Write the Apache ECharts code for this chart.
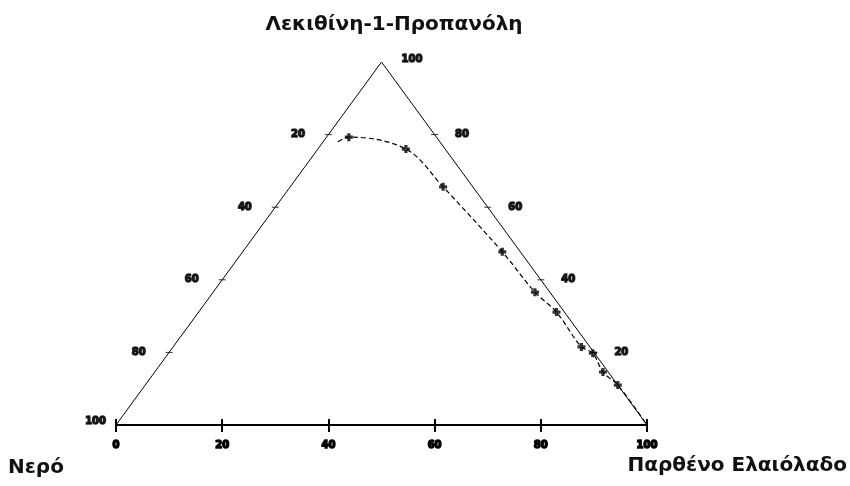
<!DOCTYPE html>
<html>
<head>
<meta charset="utf-8">
<script src="https://cdn.jsdelivr.net/npm/echarts@6/dist/echarts.min.js"></script>
<style>
  html, body { margin: 0; padding: 0; background: #fff; }
  #chart { width: 850px; height: 486px; }
</style>
</head>
<body>
<div id="chart"></div>
<script>
// Phase boundary of the water / lecithin-1-propanol / virgin olive oil system (% w/w)
const curveWater    = [19.2, 16.5, 7.4, 5.6, 3.4, 2.8, 1.5, 1.6, 0.3, 1.0, 0.0, 0.0];
const curveLecithin = [78.0, 79.3, 76.0, 65.6, 47.7, 36.6, 31.1, 21.5, 19.8, 14.6, 11.0, 0.0];
const curveOil      = [2.8, 4.2, 16.6, 28.8, 48.9, 60.6, 67.4, 76.9, 79.9, 84.4, 89.0, 100.0];
// which of the curve points carry a marker
const markedPoints  = [1, 2, 3, 4, 5, 6, 7, 8, 9, 10];

// axis ticks
const oilTicks      = [0, 20, 40, 60, 80, 100];
const waterTicks    = [80, 60, 40, 20];
const lecithinTicks = [80, 60, 40, 20];

const titleTop   = 'Λεκιθίνη-1-Προπανόλη';
const titleLeft  = 'Νερό';
const titleRight = 'Παρθένο Ελαιόλαδο';

// ternary composition -> cartesian (x along the base, y = lecithin height)
function toXY(w, l, o) {
  const s = w + l + o;
  const L = l / s * 100, O = o / s * 100;
  return [O + L / 2, L];
}

const curveData = curveWater.map((w, i) => toXY(w, curveLecithin[i], curveOil[i]));
const markerData = markedPoints.map(i => curveData[i]);

// triangle outline: water corner, lecithin apex, oil corner
const outline = [toXY(100, 0, 0), toXY(0, 100, 0), toXY(0, 0, 100)];

const leftTickData = waterTicks.map(w => toXY(w, 100 - w, 0));
const rightTickData = lecithinTicks.map(l => toXY(0, l, 100 - l));

const tickFont = {
  fontFamily: 'DejaVu Sans',
  fontWeight: 'bold',
  fontSize: 10,
  color: '#000',
  textBorderColor: '#000',
  textBorderWidth: 1.5
};

const nameFont = 'bold 20px "DejaVu Sans"';

const plusSymbol = 'path://M3,0h4v3h3v4h-3v3h-4v-3h-3v-4h3z';

const chart = echarts.init(document.getElementById('chart'), null, { renderer: 'canvas' });

chart.setOption({
  animation: false,
  backgroundColor: '#fff',
  grid: { left: 116, right: 203, top: 62, bottom: 61, containLabel: false },
  xAxis: [
    {
      type: 'value', min: 0, max: 100, interval: 20,
      axisLine: { show: true, lineStyle: { color: '#000', width: 2 } },
      axisTick: { show: true, length: 7, lineStyle: { color: '#000', width: 2 } },
      axisLabel: Object.assign({ margin: 15, formatter: v => oilTicks.includes(v) ? String(v) : '' }, tickFont),
      splitLine: { show: false }
    },
    {
      type: 'value', min: 0, max: 100, interval: 20, position: 'bottom', offset: 0,
      axisLine: { show: false },
      axisTick: { show: true, inside: true, length: 6, lineStyle: { color: '#000', width: 2 } },
      axisLabel: { show: false },
      splitLine: { show: false }
    }
  ],
  yAxis: { type: 'value', min: 0, max: 100, show: false },
  graphic: [
    {
      type: 'text', x: 394, y: 25,
      style: { text: titleTop, font: nameFont, fill: '#111', textAlign: 'center', textVerticalAlign: 'middle' }
    },
    {
      type: 'text', x: 8, y: 468,
      style: { text: titleLeft, font: nameFont, fill: '#111', textAlign: 'left', textVerticalAlign: 'middle' }
    },
    {
      type: 'text', x: 847, y: 466,
      style: { text: titleRight, font: nameFont, fill: '#111', textAlign: 'right', textVerticalAlign: 'middle' }
    }
  ],
  series: [
    {
      // left and right sides of the triangle
      type: 'line',
      data: outline,
      symbol: 'none',
      lineStyle: { color: '#000', width: 1 },
      silent: true,
      z: 2
    },
    {
      // binodal curve
      type: 'line',
      data: curveData,
      smooth: 0.35,
      symbol: 'none',
      lineStyle: { color: '#000', width: 1.2, type: [5, 3] },
      silent: true,
      z: 3
    },
    {
      type: 'scatter',
      data: markerData,
      symbol: plusSymbol,
      symbolSize: 8,
      itemStyle: { color: '#000' },
      silent: true,
      z: 4
    },
    {
      // water scale on the left side
      type: 'scatter',
      data: leftTickData.map((p, i) => ({ value: p, label: { formatter: String(waterTicks[i]) } })),
      symbol: 'rect',
      symbolSize: [7, 1],
      itemStyle: { color: '#000' },
      label: Object.assign({ show: true, position: 'left', distance: 20 }, tickFont),
      silent: true,
      z: 5
    },
    {
      // lecithin scale on the right side
      type: 'scatter',
      data: rightTickData.map((p, i) => ({ value: p, label: { formatter: String(lecithinTicks[i]) } })),
      symbol: 'rect',
      symbolSize: [7, 1],
      itemStyle: { color: '#000' },
      label: Object.assign({ show: true, position: 'right', distance: 17 }, tickFont),
      silent: true,
      z: 5
    },
    {
      // 100 at the water corner and at the lecithin apex
      type: 'scatter',
      data: [
        { value: outline[0], label: { position: 'left', distance: 10, offset: [0, -4] } },
        { value: outline[1], label: { position: 'right', distance: 20, offset: [0, -3] } }
      ],
      symbolSize: 0,
      label: Object.assign({ show: true, formatter: '100' }, tickFont),
      silent: true,
      z: 5
    }
  ]
});
</script>
</body>
</html>
